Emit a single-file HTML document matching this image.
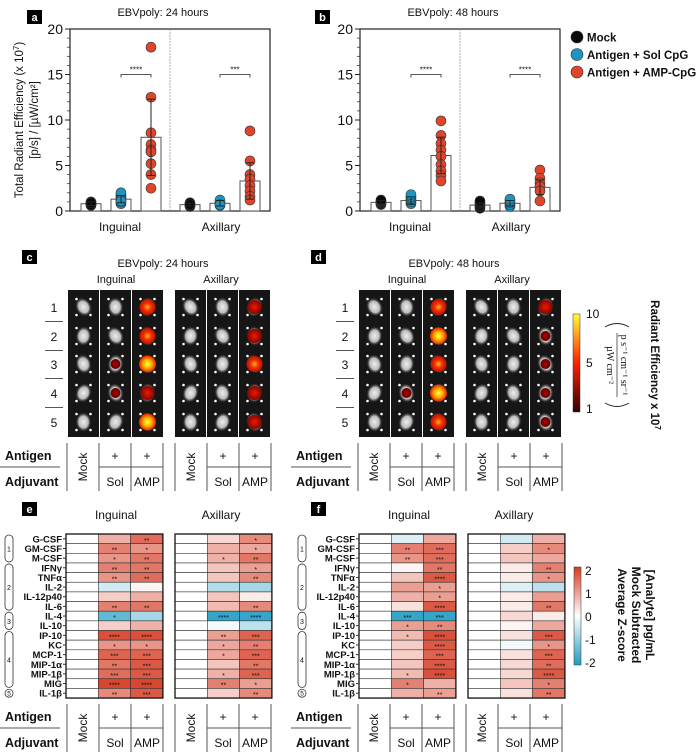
<!DOCTYPE html>
<html><head><meta charset="utf-8"><style>
html,body{margin:0;padding:0;background:#fff;}
svg{display:block;font-family:"Liberation Sans",sans-serif;}
</style></head><body>
<svg id="fig" width="700" height="754" viewBox="0 0 700 754" xmlns="http://www.w3.org/2000/svg">
<defs>
<radialGradient id="blob" cx="50%" cy="50%" r="50%"><stop offset="0" stop-color="#eee"/><stop offset="0.6" stop-color="#bbb"/><stop offset="1" stop-color="#222" stop-opacity="0"/></radialGradient>
<radialGradient id="hotY" cx="50%" cy="50%" r="50%"><stop offset="0" stop-color="#ffff40"/><stop offset="0.5" stop-color="#ffb000"/><stop offset="1" stop-color="#e02000"/></radialGradient>
<radialGradient id="hotO" cx="50%" cy="50%" r="50%"><stop offset="0" stop-color="#ffb020"/><stop offset="0.5" stop-color="#f03000"/><stop offset="1" stop-color="#c01000"/></radialGradient>
<radialGradient id="hotR" cx="50%" cy="50%" r="50%"><stop offset="0" stop-color="#e02000"/><stop offset="1" stop-color="#900000"/></radialGradient>
<radialGradient id="hotD" cx="50%" cy="50%" r="50%"><stop offset="0" stop-color="#b00000"/><stop offset="1" stop-color="#600000"/></radialGradient>
<linearGradient id="cbHeat" x1="0" y1="0" x2="0" y2="1"><stop offset="0" stop-color="#ffff30"/><stop offset="0.5" stop-color="#ff2000"/><stop offset="1" stop-color="#300000"/></linearGradient>
<linearGradient id="cbZ" x1="0" y1="0" x2="0" y2="1"><stop offset="0" stop-color="#d43c22"/><stop offset="0.5" stop-color="#ffffff"/><stop offset="1" stop-color="#1f9bc2"/></linearGradient>
</defs>
</svg>
<script>
// ---------- bar chart data ----------
const barGroups = ["Inguinal","Axillary"];
const barTreat = ["Mock","Antigen + Sol CpG","Antigen + AMP-CpG"];
const yTicks = [0,5,10,15,20];
const a_means = [[0.8,1.3,8.1],[0.7,0.85,3.3]];
const a_err = [[0.2,0.4,4.2],[0.15,0.3,2.0]];
const a_pts = [[[0.6,0.7,0.8,0.9,1.0,0.8,0.7,0.9],[0.8,1.0,1.2,1.4,1.6,1.8,2.0,1.1],[18,12.5,8.6,7.3,6.7,6.5,5.2,4.0,2.5]],
               [[0.5,0.6,0.7,0.8,0.9,0.7],[0.6,0.8,1.0,1.2,0.7],[8.8,5.5,4.0,3.5,2.8,2.2,1.6,1.2]]];
const b_means = [[0.95,1.15,6.1],[0.65,0.85,2.6]];
const b_err = [[0.2,0.4,2.0],[0.2,0.3,0.8]];
const b_pts = [[[0.7,0.8,0.9,1.0,1.1,1.2],[0.8,1.0,1.2,1.4,1.6,1.8],[9.9,8.3,7.4,6.7,6.0,5.1,4.4,3.9,3.3]],
               [[0.3,0.5,0.6,0.8,0.9,1.1],[0.5,0.7,0.9,1.1,1.3],[4.5,3.6,3.1,2.7,2.2,1.1]]];
const a_sig = ["****","***"];
const b_sig = ["****","****"];
// ---------- heatmap data ----------
const analytes = ["G-CSF","GM-CSF","M-CSF","IFNγ","TNFα","IL-2","IL-12p40","IL-6","IL-4","IL-10","IP-10","KC","MCP-1","MIP-1α","MIP-1β","MIG","IL-1β"];
const e_ing_sol = [0.8,1.3,1.1,1.3,1.1,-0.4,0.5,1.3,-1.4,0.5,1.8,1.1,1.6,1.4,1.5,1.9,1.2];
const e_ing_amp = [1.5,1.1,1.4,1.4,1.5,0.1,0.8,1.4,-0.8,0.8,1.8,1.1,1.6,1.7,1.7,1.9,1.7];
const e_axi_sol = [0.4,0.8,0.8,0.6,0.6,-0.7,0.6,0.7,-1.8,-0.1,1.0,0.9,0.9,0.6,0.8,1.3,0.5];
const e_axi_amp = [1.2,0.9,1.4,1.0,1.2,-0.8,0.2,1.2,-1.8,-0.6,1.6,1.3,1.6,1.4,1.6,1.0,1.2];
const f_ing_sol = [-0.3,1.3,1.1,0.1,0.6,1.0,0.8,0.3,-1.8,1.0,0.7,0.5,0.5,0.6,0.7,1.3,0.8];
const f_ing_amp = [0.9,1.5,1.5,1.4,1.7,1.0,1.0,1.7,-1.8,1.2,1.8,1.7,1.6,1.7,1.8,0.8,1.0];
const f_axi_sol = [-0.4,0.5,0.6,0.2,0.2,-0.3,0.2,0.2,0.4,0.1,0.3,-0.1,0.3,0.4,0.4,0.6,0.3];
const f_axi_amp = [0.8,1.2,0.9,1.3,1.1,-0.6,1.0,1.4,0.2,0.9,1.7,1.1,1.6,1.5,1.7,1.3,1.4];
const e_ing_sol_s = ["","**","*","**","**","","","**","*","","****","*","***","**","***","****","**"];
const e_ing_amp_s = ["**","*","**","**","**","","","**","","","****","*","***","***","***","****","***"];
const e_axi_sol_s = ["","","*","","","","","","****","","**","*","*","","*","**",""];
const e_axi_amp_s = ["*","*","**","*","**","","","**","****","","***","**","***","**","***","*","**"];
const f_ing_sol_s = ["","**","**","","","","","","***","*","*","","","","*","*",""];
const f_ing_amp_s = ["","***","***","**","****","*","*","****","***","**","****","****","***","****","****","","**"];
const f_axi_sol_s = ["","","","","","","","","","","","","","","","",""];
const f_axi_amp_s = ["","*","","**","*","","","**","","","***","*","***","**","****","*","**"];
// ---------- imaging spot data (0 none, 1 dark, 2 red, 3 orange, 4 yellow) ----------
const c_ing = [[0,0,0,0,0],[0,0,1,1,0],[3,3,4,2,4]];
const c_axi = [[0,0,0,0,0],[0,0,0,0,0],[2,2,3,2,2]];
const d_ing = [[0,0,0,0,0],[0,0,0,1,0],[3,4,3,4,3]];
const d_axi = [[0,0,0,0,0],[0,0,0,0,0],[2,1,1,1,1]];

const NS="http://www.w3.org/2000/svg";
const svg=document.getElementById('fig');
function mk(tag,attrs,parent){const el=document.createElementNS(NS,tag);for(const k in attrs)el.setAttribute(k,attrs[k]);(parent||svg).appendChild(el);return el;}
function txt(x,y,s,size,opts,parent){const t=mk('text',Object.assign({x:x,y:y,'font-size':size,fill:'#111'},opts||{}),parent);t.textContent=s;return t;}

// panel labels
[["a",27,10],["b",315,10],["c",22,250],["d",311,250],["e",22,502],["f",311,502]].forEach(p=>{
  const r=mk('rect',{x:p[1],y:p[2],width:15,height:14,fill:'#000'});
  
  
  const t=txt(p[1]+7.5,p[2]+11,p[0],11,{'text-anchor':'middle',fill:'#fff','font-weight':'bold'});
  
  
});

// ---------- bar charts ----------
const colors=["#0a0a0a","#1b96c2","#e0452b"];
function barChart(x0,title,means,errs,pts,sig,showYTitle,key){
  const yB=211, yT=29;
  const y=v=>yB-(v/20)*(yB-yT);
  const tt=txt(x0+93,16,title,11,{'text-anchor':'middle'});
  
  
  const frame=mk('rect',{x:x0,y:yT,width:200,height:yB-yT,fill:'none',stroke:'#222','stroke-width':1.2});
  
  
  const div=mk('line',{x1:x0+100,x2:x0+100,y1:yT,y2:yB,stroke:'#999','stroke-width':0.8,'stroke-dasharray':'2,1'});
  
  
  yTicks.forEach(v=>{
    const l=mk('line',{x1:x0-5,x2:x0,y1:y(v),y2:y(v),stroke:'#222'});
    
    
    const t=txt(x0-7,y(v)+5,String(v),14,{'text-anchor':'end'});
    
    
  });
  for(let v=1;v<20;v++){ if(v%5===0)continue;
    const l=mk('line',{x1:x0-3,x2:x0,y1:y(v),y2:y(v),stroke:'#222','stroke-width':0.7});
    
    }
  if(showYTitle){
    const g=mk('g',{transform:'translate(23,120) rotate(-90)'});
    
    
    const t1=txt(0,0,'Total Radiant Efficiency (x 10',11.5,{'text-anchor':'middle'},g);
    const sup=mk('tspan',{dy:-4,'font-size':8},t1);sup.textContent='7';
    const sp2=mk('tspan',{dy:4},t1);sp2.textContent=')';
    txt(0,15,'[p/s] / [µW/cm²]',11.5,{'text-anchor':'middle'},g);
  }
  barGroups.forEach((gname,gi)=>{
    const gl=txt(x0+50+gi*100+(gi?1:0),231,gname,12,{'text-anchor':'middle'});
    
    
    means[gi].forEach((m,ti)=>{
      const cx=x0+21+gi*99+ti*30;
      const b=mk('rect',{x:cx-10,y:y(m),width:20,height:yB-y(m),fill:'#fff',stroke:'#555','stroke-width':1});
      
      
      pts[gi][ti].forEach(p=>{
        const c=mk('circle',{cx:cx,cy:y(p),r:5,fill:colors[ti],stroke:'#333','stroke-width':0.6});
        
        
      });
      const e=errs[gi][ti];
      const eb=mk('path',{d:`M${cx},${y(m-e)}V${y(m+e)}M${cx-4},${y(m-e)}H${cx+4}M${cx-4},${y(m+e)}H${cx+4}`,stroke:'#222','stroke-width':1,fill:'none'});
      
      
    });
    const sx1=x0+51+gi*99, sx2=x0+81+gi*99, sy=y(15);
    const br=mk('path',{d:`M${sx1},${sy+3}V${sy}H${sx2}V${sy+3}`,stroke:'#222',fill:'none','stroke-width':0.8});
    
    
    const st=txt((sx1+sx2)/2,sy-2,sig[gi],8,{'text-anchor':'middle'});
    
    
  });
}
barChart(70,'EBVpoly: 24 hours',a_means,a_err,a_pts,a_sig,true,'panel-a');
barChart(360,'EBVpoly: 48 hours',b_means,b_err,b_pts,b_sig,false,'panel-b');
// legend
barTreat.forEach((n,i)=>{
  const c=mk('circle',{cx:577,cy:37+i*17.5,r:6,fill:colors[i],stroke:'#333','stroke-width':0.6});
  
  
  const t=txt(587,41.5+i*17.5,n,11.5,{'font-weight':'bold'});
  
  
});

// ---------- imaging panels ----------
const spotFill=["","url(#hotD)","url(#hotR)","url(#hotO)","url(#hotY)"];
const spotR=[0,5,7,8,8.5];
const rowY=[307,336,364,393,422];
function strip(x0,data,key){
  const g=mk('g',{});
  
  
  data.forEach((col,ci)=>{
    const cx0=x0+ci*32;
    mk('rect',{x:cx0,y:290,width:31,height:147,fill:'#161616'},g);
    col.forEach((v,ri)=>{
      const cx=cx0+15.5, cy=rowY[ri];
      const b=mk('ellipse',{cx:cx,cy:cy,rx:8,ry:10,fill:'url(#blob)',transform:`rotate(${(ri*37+ci*23)%60-30},${cx},${cy})`},g);
      
      
      [[-7,-8],[7,-8],[-7,8],[7,8]].forEach(d=>mk('circle',{cx:cx+d[0],cy:cy+d[1],r:1.3,fill:'#fff'},g));
      if(v>0){const s=mk('circle',{cx:cx,cy:cy,r:spotR[v],fill:spotFill[v]},g);
        
        }
    });
  });
}
function imgPanel(xOff,title,ing,axi,key){
  const t=txt(xOff+163,267,title,11,{'text-anchor':'middle'});
  
  
  const ti=txt(xOff+116,283,'Inguinal',11,{'text-anchor':'middle'});
  
  
  const ta=txt(xOff+221,283,'Axillary',11,{'text-anchor':'middle'});
  
  
  strip(xOff+68,ing,key+'-inguinal-images');
  strip(xOff+175,axi,key+'-axillary-images');
  rowY.forEach((yy,i)=>{
    const n=txt(xOff+54,yy+5,String(i+1),12,{'text-anchor':'middle'});
    
    
    if(i<4){const l=mk('line',{x1:xOff+45,x2:xOff+63,y1:yy+14.5,y2:yy+14.5,stroke:'#555'});
      
      }
  });
}
imgPanel(0,'EBVpoly: 24 hours',c_ing,c_axi,'panel-c');
imgPanel(291,'EBVpoly: 48 hours',d_ing,d_axi,'panel-d');
// heat colorbar
const cbh=mk('rect',{x:573,y:314,width:7,height:98,fill:'url(#cbHeat)',stroke:'#333','stroke-width':0.5});


[["10",318],["5",367],["1",413]].forEach(p=>{const t=txt(586,p[1],p[0],12);
  
  });
{
  const g=mk('g',{transform:'translate(651,365) rotate(90)'});
  
  
  const t=txt(0,0,'Radiant Efficiency x 10',11.5,{'text-anchor':'middle','font-weight':'bold'},g);
  const s=mk('tspan',{dy:-4,'font-size':8},t);s.textContent='7';
  const g2=mk('g',{transform:'translate(617,365) rotate(90)'});
  
  
  txt(0,-4,'p s⁻¹ cm⁻¹ sr⁻¹',10,{'text-anchor':'middle','font-family':'Liberation Serif'},g2);
  mk('line',{x1:-32,x2:32,y1:0,y2:0,stroke:'#222','stroke-width':0.7},g2);
  txt(0,10,'µW cm⁻²',10,{'text-anchor':'middle','font-family':'Liberation Serif'},g2);
  const pl=mk('path',{d:'M-38,-12 Q-45,0 -38,12',fill:'none',stroke:'#222','stroke-width':0.9},g2);
  
  
  const pr=mk('path',{d:'M38,-12 Q45,0 38,12',fill:'none',stroke:'#222','stroke-width':0.9},g2);
  
  
}

// ---------- condition tables ----------
function condTable(xOff,yTop,key){
  const y0=yTop, y1=yTop+48, ym=yTop+24;
  const a=txt(5+xOff,y0+17,'Antigen',12.5,{'font-weight':'bold'});
  
  
  const ad=txt(5+xOff,y0+43,'Adjuvant',12.5,{'font-weight':'bold'});
  
  
  const hl=mk('line',{x1:xOff,x2:xOff+60,y1:ym,y2:ym,stroke:'#555'});
  
  
  [67,175].forEach(bx=>{
    const gx=xOff+bx;
    [0,32,64,96].forEach(dx=>{const l=mk('line',{x1:gx+dx,x2:gx+dx,y1:y0,y2:y1,stroke:'#555'});
      
      });
    const l2=mk('line',{x1:gx+32,x2:gx+96,y1:ym,y2:ym,stroke:'#555'});
    
    
    const m=txt(0,0,'Mock',12,{'text-anchor':'middle',transform:`translate(${gx+20},${ym}) rotate(-90)`});
    
    
    ['+','+'].forEach((s,i)=>{const t=txt(gx+48+i*32,y0+17,s,12,{'text-anchor':'middle'});
      
      });
    ['Sol','AMP'].forEach((s,i)=>{const t=txt(gx+48+i*32,y0+43,s,12,{'text-anchor':'middle'});
      
      });
  });
}
condTable(0,443,'panel-c-table');
condTable(291,443,'panel-d-table');
condTable(0,704,'panel-e-table');
condTable(291,704,'panel-f-table');

// ---------- heatmaps ----------
function zColor(z){
  z=Math.max(-2,Math.min(2,z));
  const t=Math.abs(z)/2;
  const tgt=z>=0?[214,60,36]:[31,155,194];
  const c=tgt.map(v=>Math.round(255+(v-255)*t));
  return `rgb(${c[0]},${c[1]},${c[2]})`;
}
const hmY0=534, rowH=9.65, colW=32.3;
function hmBlock(x0,sol,amp,solS,ampS,key){
  const cols=[null,sol,amp], stars=[null,solS,ampS];
  analytes.forEach((a,ri)=>{
    cols.forEach((arr,ci)=>{
      const z=arr?arr[ri]:0;
      const r=mk('rect',{x:x0+ci*colW,y:hmY0+ri*rowH,width:colW,height:rowH,fill:zColor(z),stroke:'#333','stroke-width':0.6});
      
      
      if(arr&&stars[ci][ri]){
        const t=txt(x0+ci*colW+colW/2,hmY0+ri*rowH+rowH/2+4,stars[ci][ri],7,{'text-anchor':'middle'});
        
        
      }
    });
  });
  const f=mk('rect',{x:x0,y:hmY0,width:colW*3,height:rowH*17,fill:'none',stroke:'#111','stroke-width':1.3});
  
  
}
function hmPanel(xOff,ing,axi,key){
  const ti=txt(xOff+116,519,'Inguinal',12,{'text-anchor':'middle'});
  
  
  const ta=txt(xOff+221,519,'Axillary',12,{'text-anchor':'middle'});
  
  
  hmBlock(xOff+66,ing[0],ing[1],ing[2],ing[3],key+'-inguinal');
  hmBlock(xOff+175,axi[0],axi[1],axi[2],axi[3],key+'-axillary');
  analytes.forEach((a,ri)=>{
    const yy=hmY0+ri*rowH+rowH/2;
    const t=txt(xOff+62,yy+3.5,a,9.5,{'text-anchor':'end','font-weight':'bold'});
    
    
    mk('line',{x1:xOff+63,x2:xOff+66,y1:yy,y2:yy,stroke:'#333'});
  });
  [[0,2,'1'],[3,7,'2'],[8,9,'3'],[10,15,'4']].forEach(g=>{
    const yA=hmY0+g[0]*rowH+1, yB=hmY0+(g[1]+1)*rowH-1;
    const r=mk('rect',{x:xOff+5,y:yA,width:8,height:yB-yA,rx:4,ry:4,fill:'none',stroke:'#333','stroke-width':0.8});
    
    
    const t=txt(xOff+9,(yA+yB)/2+3,g[2],7,{'text-anchor':'middle'});
    
    
  });
  const c5=mk('circle',{cx:xOff+9,cy:hmY0+16.5*rowH,r:4,fill:'none',stroke:'#333','stroke-width':0.8});
  
  
  const t5=txt(xOff+9,hmY0+16.5*rowH+2.5,'5',6.5,{'text-anchor':'middle'});
  
  
}
hmPanel(0,[e_ing_sol,e_ing_amp,e_ing_sol_s,e_ing_amp_s],[e_axi_sol,e_axi_amp,e_axi_sol_s,e_axi_amp_s],'panel-e');
hmPanel(293,[f_ing_sol,f_ing_amp,f_ing_sol_s,f_ing_amp_s],[f_axi_sol,f_axi_amp,f_axi_sol_s,f_axi_amp_s],'panel-f');
// z colorbar
const cbz=mk('rect',{x:574,y:567,width:7,height:98,fill:'url(#cbZ)',stroke:'#333','stroke-width':0.5});


[["2",571],["1",594],["0",617],["-1",640],["-2",663]].forEach(p=>{
  const t=txt(585,p[1]+4,p[0],12);
  
  });
{
  const g=mk('g',{transform:'translate(646,615) rotate(90)'});
  
  
  txt(0,0,'[Analyte] pg/mL',12,{'text-anchor':'middle','font-weight':'bold'},g);
  txt(0,14,'Mock Subtracted',12,{'text-anchor':'middle','font-weight':'bold'},g);
  txt(0,28,'Average Z-score',12,{'text-anchor':'middle','font-weight':'bold'},g);
}
</script>
</body></html>
